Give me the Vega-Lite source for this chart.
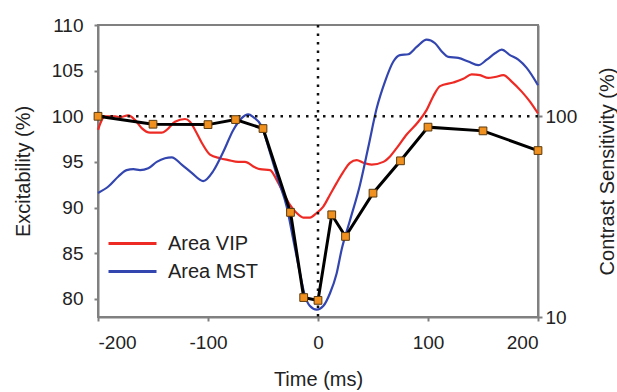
{
  "$schema": "https://vega.github.io/schema/vega-lite/v6.json",
  "width": 440,
  "height": 292,
  "autosize": {"type": "none"},
  "padding": {"left": 98, "top": 25, "right": 79, "bottom": 75},
  "background": "white",
  "config": {
    "font": "Liberation Sans",
    "view": {"stroke": "#808080", "strokeWidth": 2},
    "axis": {
      "grid": false,
      "domainColor": "#808080",
      "domainWidth": 2,
      "tickColor": "#808080",
      "tickWidth": 2,
      "tickSize": 4,
      "labelFont": "Liberation Sans",
      "labelFontSize": 19,
      "labelColor": "#222222",
      "titleFont": "Liberation Sans",
      "titleFontSize": 20,
      "titleFontWeight": "normal",
      "titleColor": "#222222"
    }
  },
  "datasets": {
    "excit": [
      {"t": -200, "v": 98.5, "s": "Area VIP"},
      {"t": -193.6, "v": 100.0, "s": "Area VIP"},
      {"t": -184.5, "v": 100.0, "s": "Area VIP"},
      {"t": -180, "v": 99.9, "s": "Area VIP"},
      {"t": -172.5, "v": 100.1, "s": "Area VIP"},
      {"t": -166.4, "v": 99.6, "s": "Area VIP"},
      {"t": -160.3, "v": 98.7, "s": "Area VIP"},
      {"t": -152.7, "v": 98.2, "s": "Area VIP"},
      {"t": -142.1, "v": 98.2, "s": "Area VIP"},
      {"t": -137.5, "v": 98.5, "s": "Area VIP"},
      {"t": -130, "v": 99.4, "s": "Area VIP"},
      {"t": -120.9, "v": 99.7, "s": "Area VIP"},
      {"t": -116.4, "v": 99.4, "s": "Area VIP"},
      {"t": -111.8, "v": 98.5, "s": "Area VIP"},
      {"t": -105.7, "v": 97.1, "s": "Area VIP"},
      {"t": -98.2, "v": 95.8, "s": "Area VIP"},
      {"t": -89.1, "v": 95.4, "s": "Area VIP"},
      {"t": -81.5, "v": 95.2, "s": "Area VIP"},
      {"t": -72.5, "v": 95.0, "s": "Area VIP"},
      {"t": -66.4, "v": 95.0, "s": "Area VIP"},
      {"t": -57.3, "v": 94.4, "s": "Area VIP"},
      {"t": -52.7, "v": 94.2, "s": "Area VIP"},
      {"t": -43.6, "v": 94.1, "s": "Area VIP"},
      {"t": -37.5, "v": 93.0, "s": "Area VIP"},
      {"t": -31.5, "v": 91.6, "s": "Area VIP"},
      {"t": -25.5, "v": 90.3, "s": "Area VIP"},
      {"t": -19.4, "v": 89.4, "s": "Area VIP"},
      {"t": -13.4, "v": 88.9, "s": "Area VIP"},
      {"t": -7.3, "v": 88.9, "s": "Area VIP"},
      {"t": -1.2, "v": 89.4, "s": "Area VIP"},
      {"t": 4.8, "v": 90.1, "s": "Area VIP"},
      {"t": 10.9, "v": 91.4, "s": "Area VIP"},
      {"t": 17, "v": 92.7, "s": "Area VIP"},
      {"t": 23, "v": 93.9, "s": "Area VIP"},
      {"t": 29.1, "v": 94.9, "s": "Area VIP"},
      {"t": 35.2, "v": 95.2, "s": "Area VIP"},
      {"t": 41.2, "v": 94.9, "s": "Area VIP"},
      {"t": 48.8, "v": 94.7, "s": "Area VIP"},
      {"t": 59.4, "v": 95.0, "s": "Area VIP"},
      {"t": 65.5, "v": 95.6, "s": "Area VIP"},
      {"t": 71.5, "v": 96.5, "s": "Area VIP"},
      {"t": 80.6, "v": 98.0, "s": "Area VIP"},
      {"t": 91.2, "v": 99.4, "s": "Area VIP"},
      {"t": 98.8, "v": 100.7, "s": "Area VIP"},
      {"t": 104.8, "v": 102.2, "s": "Area VIP"},
      {"t": 110.9, "v": 103.3, "s": "Area VIP"},
      {"t": 123, "v": 103.7, "s": "Area VIP"},
      {"t": 132.1, "v": 104.1, "s": "Area VIP"},
      {"t": 139.7, "v": 104.6, "s": "Area VIP"},
      {"t": 147.3, "v": 104.5, "s": "Area VIP"},
      {"t": 154.8, "v": 104.2, "s": "Area VIP"},
      {"t": 160.9, "v": 104.3, "s": "Area VIP"},
      {"t": 168.5, "v": 104.5, "s": "Area VIP"},
      {"t": 176.1, "v": 103.8, "s": "Area VIP"},
      {"t": 185.2, "v": 102.7, "s": "Area VIP"},
      {"t": 192.7, "v": 101.6, "s": "Area VIP"},
      {"t": 200, "v": 100.3, "s": "Area VIP"},
      {"t": -200, "v": 91.6, "s": "Area MST"},
      {"t": -190.6, "v": 92.3, "s": "Area MST"},
      {"t": -181.5, "v": 93.4, "s": "Area MST"},
      {"t": -173.9, "v": 94.1, "s": "Area MST"},
      {"t": -167.9, "v": 94.2, "s": "Area MST"},
      {"t": -161.8, "v": 94.1, "s": "Area MST"},
      {"t": -154.3, "v": 94.3, "s": "Area MST"},
      {"t": -146.6, "v": 95.0, "s": "Area MST"},
      {"t": -139.1, "v": 95.4, "s": "Area MST"},
      {"t": -133, "v": 95.5, "s": "Area MST"},
      {"t": -123.9, "v": 94.7, "s": "Area MST"},
      {"t": -114.8, "v": 93.8, "s": "Area MST"},
      {"t": -104.3, "v": 92.9, "s": "Area MST"},
      {"t": -95.2, "v": 94.0, "s": "Area MST"},
      {"t": -86.1, "v": 96.1, "s": "Area MST"},
      {"t": -77, "v": 98.5, "s": "Area MST"},
      {"t": -69.4, "v": 99.8, "s": "Area MST"},
      {"t": -63.4, "v": 100.2, "s": "Area MST"},
      {"t": -58.8, "v": 99.9, "s": "Area MST"},
      {"t": -51.2, "v": 98.9, "s": "Area MST"},
      {"t": -43.6, "v": 96.0, "s": "Area MST"},
      {"t": -36.1, "v": 93.0, "s": "Area MST"},
      {"t": -28.5, "v": 90.1, "s": "Area MST"},
      {"t": -22.5, "v": 86.5, "s": "Area MST"},
      {"t": -16.4, "v": 82.8, "s": "Area MST"},
      {"t": -11.8, "v": 80.3, "s": "Area MST"},
      {"t": -7.3, "v": 79.2, "s": "Area MST"},
      {"t": -1.2, "v": 78.8, "s": "Area MST"},
      {"t": 4.8, "v": 79.2, "s": "Area MST"},
      {"t": 10.9, "v": 80.6, "s": "Area MST"},
      {"t": 17, "v": 82.8, "s": "Area MST"},
      {"t": 21.5, "v": 85.4, "s": "Area MST"},
      {"t": 29.1, "v": 88.6, "s": "Area MST"},
      {"t": 38.2, "v": 92.5, "s": "Area MST"},
      {"t": 45.7, "v": 96.6, "s": "Area MST"},
      {"t": 53.4, "v": 100.9, "s": "Area MST"},
      {"t": 60.9, "v": 103.8, "s": "Area MST"},
      {"t": 68.5, "v": 106.0, "s": "Area MST"},
      {"t": 74.5, "v": 106.7, "s": "Area MST"},
      {"t": 82.1, "v": 106.8, "s": "Area MST"},
      {"t": 89.7, "v": 107.6, "s": "Area MST"},
      {"t": 98.8, "v": 108.4, "s": "Area MST"},
      {"t": 106.4, "v": 108.0, "s": "Area MST"},
      {"t": 112.5, "v": 107.1, "s": "Area MST"},
      {"t": 118.5, "v": 106.5, "s": "Area MST"},
      {"t": 127.5, "v": 106.4, "s": "Area MST"},
      {"t": 136.6, "v": 106.0, "s": "Area MST"},
      {"t": 145.7, "v": 105.6, "s": "Area MST"},
      {"t": 153.4, "v": 106.2, "s": "Area MST"},
      {"t": 160.9, "v": 106.9, "s": "Area MST"},
      {"t": 167, "v": 107.3, "s": "Area MST"},
      {"t": 174.5, "v": 106.7, "s": "Area MST"},
      {"t": 182.1, "v": 106.2, "s": "Area MST"},
      {"t": 189.7, "v": 105.3, "s": "Area MST"},
      {"t": 200, "v": 103.4, "s": "Area MST"}
    ],
    "cs": [
      {"t": -200, "c": 100},
      {"t": -150, "c": 91.3},
      {"t": -100, "c": 90.9},
      {"t": -75, "c": 96.3},
      {"t": -50, "c": 86.9},
      {"t": -25, "c": 33.2},
      {"t": -13, "c": 12.5},
      {"t": 0, "c": 12.1},
      {"t": 12.5, "c": 32.3},
      {"t": 25, "c": 25.2},
      {"t": 50, "c": 41.4},
      {"t": 75, "c": 60.0},
      {"t": 100, "c": 88.3},
      {"t": 150, "c": 84.6},
      {"t": 200, "c": 67.5}
    ]
  },
  "layer": [
    {
      "layer": [
        {
          "data": {"name": "excit"},
          "mark": {"type": "line", "strokeWidth": 2.2, "interpolate": "monotone"},
          "encoding": {
            "x": {
              "field": "t", "type": "quantitative",
              "scale": {"domain": [-200, 200], "nice": false, "zero": false},
              "axis": {"values": [-200, -100, 0, 100, 200], "labelExpr": "'' + datum.value", "title": "Time (ms)", "labelPadding": 12, "titlePadding": 17}
            },
            "y": {
              "field": "v", "type": "quantitative",
              "scale": {"domain": [78, 110], "nice": false, "zero": false},
              "axis": {"values": [80, 85, 90, 95, 100, 105, 110], "title": "Excitability (%)", "orient": "left", "labelPadding": 11, "titlePadding": 18}
            },
            "color": {
              "field": "s", "type": "nominal",
              "scale": {"domain": ["Area VIP", "Area MST"], "range": ["#EE2A24", "#3346B0"]},
              "legend": {
                "title": null,
                "orient": "none",
                "legendX": 21,
                "legendY": 205,
                "symbolType": "M-2,0H2",
                "symbolSize": 576,
                "symbolStrokeWidth": 3,
                "labelFontSize": 20,
                "labelFont": "Liberation Sans",
                "labelColor": "#222222",
                "labelOffset": 22,
                "rowPadding": 4
              }
            }
          }
        },
        {
          "data": {"values": [{"ref": 100}]},
          "mark": {"type": "rule", "strokeDash": [2.5, 6], "strokeWidth": 2.5, "color": "#111111"},
          "encoding": {"y": {"field": "ref", "type": "quantitative"}}
        },
        {
          "data": {"values": [{"ref": 0}]},
          "mark": {"type": "rule", "strokeDash": [2.5, 6], "strokeWidth": 2.5, "color": "#111111"},
          "encoding": {"x": {"field": "ref", "type": "quantitative"}}
        }
      ]
    },
    {
      "data": {"name": "cs"},
      "layer": [
        {
          "mark": {"type": "line", "color": "#000000", "strokeWidth": 3},
          "encoding": {
            "x": {"field": "t", "type": "quantitative"},
            "y": {
              "field": "c", "type": "quantitative",
              "scale": {"type": "log", "domain": [10, 285], "nice": false},
              "axis": {"values": [10, 100], "orient": "right", "title": "Contrast Sensitivity (%)", "titleAngle": -90, "labelPadding": 3, "titlePadding": 41}
            }
          }
        },
        {
          "mark": {"type": "square", "size": 60, "filled": true, "color": "#F0901E", "stroke": "#5A3A10", "strokeWidth": 1, "opacity": 1},
          "encoding": {
            "x": {"field": "t", "type": "quantitative"},
            "y": {"field": "c", "type": "quantitative"}
          }
        }
      ]
    }
  ],
  "resolve": {"scale": {"y": "independent"}, "axis": {"y": "independent"}}
}
